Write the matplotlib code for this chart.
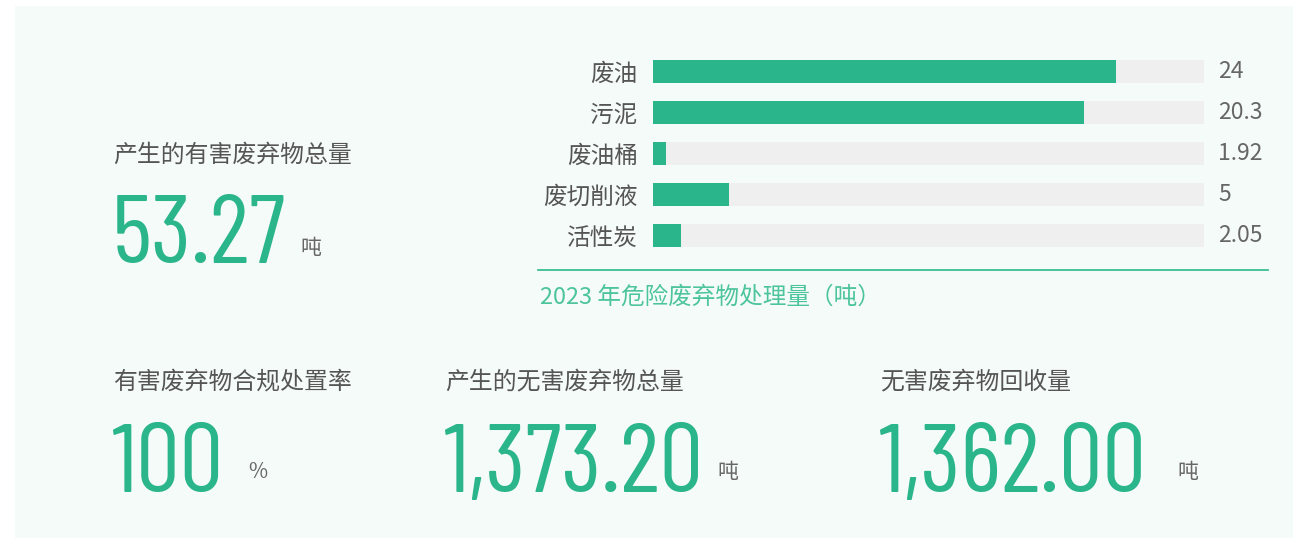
import matplotlib
matplotlib.use('Agg')
import matplotlib.pyplot as plt
from matplotlib import font_manager as fm
from matplotlib.font_manager import FontProperties
from matplotlib.textpath import TextPath

# ---------------- data ----------------
categories = ['废油', '污泥', '废油桶', '废切削液', '活性炭']
value_labels = ['24', '20.3', '1.92', '5', '2.05']
bar_fill_pct = [84.0, 78.3, 2.4, 13.8, 5.1]   # bar length as % of track
caption = '2023 年危险废弃物处理量（吨）'
kpi_titles = ['产生的有害废弃物总量', '有害废弃物合规处置率', '产生的无害废弃物总量', '无害废弃物回收量']
kpi_values = ['53.27', '100', '1,373.20', '1,362.00']
kpi_units = ['吨', '%', '吨', '吨']

# ---------------- style ----------------
W, H, DPI = 1293, 538, 100
GREEN = '#2bb58a'
CAP_GREEN = '#4cc49c'
TRACK = '#efefef'
PANEL = '#f5fbf9'
TXT = '#555555'
VAL = '#666666'
CJK = ['Noto Sans CJK SC', 'DejaVu Sans']


def fx(x):
    return x / W


def fy(y):
    return 1 - y / H


def pick_num_font():
    fl = fm.fontManager.ttflist
    pref = ['Barlow Condensed', 'Roboto Condensed', 'Asap Condensed', 'Encode Sans Condensed']
    for p in pref:
        cands = [f for f in fl if f.name == p and f.style == 'normal']
        if cands:
            def wdist(f):
                w = f.weight
                if isinstance(w, str):
                    w = {'normal': 400, 'regular': 400, 'medium': 500, 'book': 400}.get(w, 400)
                return abs(w - 420)
            f = sorted(cands, key=wdist)[0]
            return FontProperties(fname=f.fname)
    return FontProperties(family='DejaVu Sans')


num_fp = pick_num_font()

# size so that a digit is ~70 px tall
tp = TextPath((0, 0), '0', size=100, prop=num_fp)
digit_h = tp.get_extents().height / 100.0
num_size_pt = (70.5 / digit_h) * 72.0 / DPI

fig = plt.figure(figsize=(W / DPI, H / DPI), dpi=DPI)
fig.patch.set_facecolor('white')

# panel
bg = fig.add_axes([fx(15), 0, 1 - fx(15), fy(6)])
bg.set_facecolor(PANEL)
bg.set_xticks([]); bg.set_yticks([])
for s in bg.spines.values():
    s.set_visible(False)

# ---------------- bar chart ----------------
top, bot = 51, 256
ax = fig.add_axes([fx(653), fy(bot), fx(1204) - fx(653), (bot - top) / H])
ax.set_facecolor('none')
n = len(categories)
ypos = list(range(n))
ax.barh(ypos, [100] * n, height=23 / 41, color=TRACK, left=0)
ax.barh(ypos, bar_fill_pct, height=23 / 41, color=GREEN, left=0)
ax.set_xlim(0, 100)
ax.set_ylim(n - 0.5, -0.5)
ax.set_xticks([])
ax.set_yticks(ypos)
ax.set_yticklabels(categories, family=CJK, fontsize=17, color=TXT)
ax.tick_params(axis='y', length=0, pad=11)
for s in ax.spines.values():
    s.set_visible(False)
for i, v in enumerate(value_labels):
    ax.annotate(v, xy=(1, i), xycoords=('axes fraction', 'data'), xytext=(14, 0),
                textcoords='offset pixels', ha='left', va='center',
                family=CJK, fontsize=16.5, color=VAL)

# caption line + caption
fig.add_artist(plt.Line2D([fx(538), fx(1268)], [fy(270), fy(270)], color='#3dbf94', lw=1.3))
fig.text(fx(540), fy(297), caption, family=CJK, fontsize=17, color=CAP_GREEN,
         ha='left', va='center')

# ---------------- KPIs ----------------
title_pos = [(113, 155), (113, 382), (445, 382), (880, 382)]
num_pos = [(112, 263), (112, 492), (444, 492), (879, 492)]
unit_pos = [(300, 248), (248, 472), (717, 472), (1177, 472)]
for t, v, u, tpz, npz, upz in zip(kpi_titles, kpi_values, kpi_units, title_pos, num_pos, unit_pos):
    fig.text(fx(tpz[0]), fy(tpz[1]), t, family=CJK, fontsize=17.2, color=TXT,
             ha='left', va='center')
    fig.text(fx(npz[0]), fy(npz[1]), v, fontproperties=num_fp, fontsize=num_size_pt,
             color=GREEN, ha='left', va='baseline')
    fig.text(fx(upz[0]), fy(upz[1]), u, family=CJK, fontsize=15, color=VAL,
             ha='left', va='center')

fig.savefig('out.png', dpi=DPI, facecolor=fig.get_facecolor())
